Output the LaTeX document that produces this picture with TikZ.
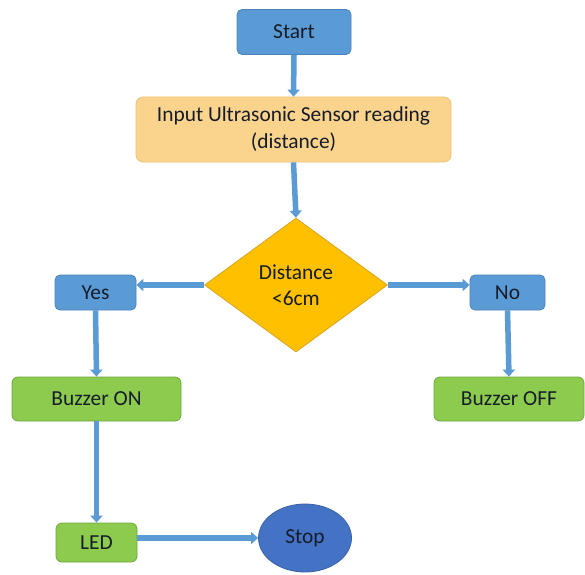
\documentclass[tikz,border=0pt]{standalone}
\usepackage{fontspec}
\setmainfont{Carlito}
\usetikzlibrary{shapes.geometric,arrows.meta}
\definecolor{boxblue}{HTML}{5B9BD5}
\definecolor{edgeblue}{HTML}{4A83B8}
\definecolor{inputfill}{HTML}{FAD48C}
\definecolor{inputedge}{HTML}{EDC27A}
\definecolor{decfill}{HTML}{FFC000}
\definecolor{decedge}{HTML}{D8A520}
\definecolor{greenfill}{HTML}{8DCB4E}
\definecolor{greenedge}{HTML}{6EA83C}
\definecolor{stopfill}{HTML}{4472C4}
\definecolor{stopedge}{HTML}{3A62A8}
\definecolor{labeltext}{HTML}{161C2A}
\definecolor{flowline}{HTML}{5B9BD5}
\tikzset{
  base/.style={font=\fontsize{21.4}{27}\selectfont, text=labeltext, align=center, inner sep=0pt, line width=0.8pt},
  bluebox/.style={base, rectangle, rounded corners=5pt, fill=boxblue, draw=edgeblue},
  inputbox/.style={base, rectangle, rounded corners=7pt, fill=inputfill, draw=inputedge},
  decbox/.style={base, diamond, fill=decfill, draw=decedge},
  greenbox/.style={base, rectangle, rounded corners=6pt, fill=greenfill, draw=greenedge},
  stopbox/.style={base, ellipse, fill=stopfill, draw=stopedge},
  flow/.style={draw=flowline, line width=5.5pt, -{Triangle[width=12pt,length=7pt]}}
}
\begin{document}
\begin{tikzpicture}[x=1pt,y=1pt]
  \fill[white] (0,0) rectangle (585,574);
  \useasboundingbox (0,0) rectangle (585,574);

  % process boxes
  \node[bluebox, minimum width=114pt, minimum height=45pt] (start) at (294,542) {Start};
  \node[inputbox, minimum width=315pt, minimum height=65pt] (input) at (293.5,444.5)
       {Input Ultrasonic Sensor reading\\(distance)};
  \node[decbox, minimum width=183pt, minimum height=134pt] (dec) at (296,289) {};
  \node[base, font=\fontsize{21.4}{26}\selectfont] (declabel) at (296,289) {Distance\\<6cm};
  \node[bluebox, minimum width=81pt, minimum height=35pt] (yes) at (95.5,281.5) {Yes};
  \node[bluebox, minimum width=75pt, minimum height=35pt] (no) at (507.5,281.5) {No};
  \node[greenbox, minimum width=169pt, minimum height=44pt] (bon) at (96.5,175) {Buzzer ON};
  \node[greenbox, minimum width=150pt, minimum height=44pt] (boff) at (509,175) {Buzzer OFF};
  \node[greenbox, minimum width=81pt, minimum height=39pt] (led) at (96.5,31.5) {LED};
  \node[stopbox, minimum width=93pt, minimum height=68pt] (stop) at (305,36) {Stop};

  % connectors
  \draw[flow] (start.south) -- (input.north);
  \draw[flow] (input.south) -- (dec.north);
  \draw[flow] (dec.west) -- (dec.west -| yes.east);
  \draw[flow] (dec.east) -- (dec.east -| no.west);
  \draw[flow] (yes.south) -- (bon.north);
  \draw[flow] (no.south) -- (boff.north);
  \draw[flow] (bon.south) -- (led.north);
  \draw[flow] (led.east |- stop.west) -- (stop.west);
\end{tikzpicture}
\end{document}
